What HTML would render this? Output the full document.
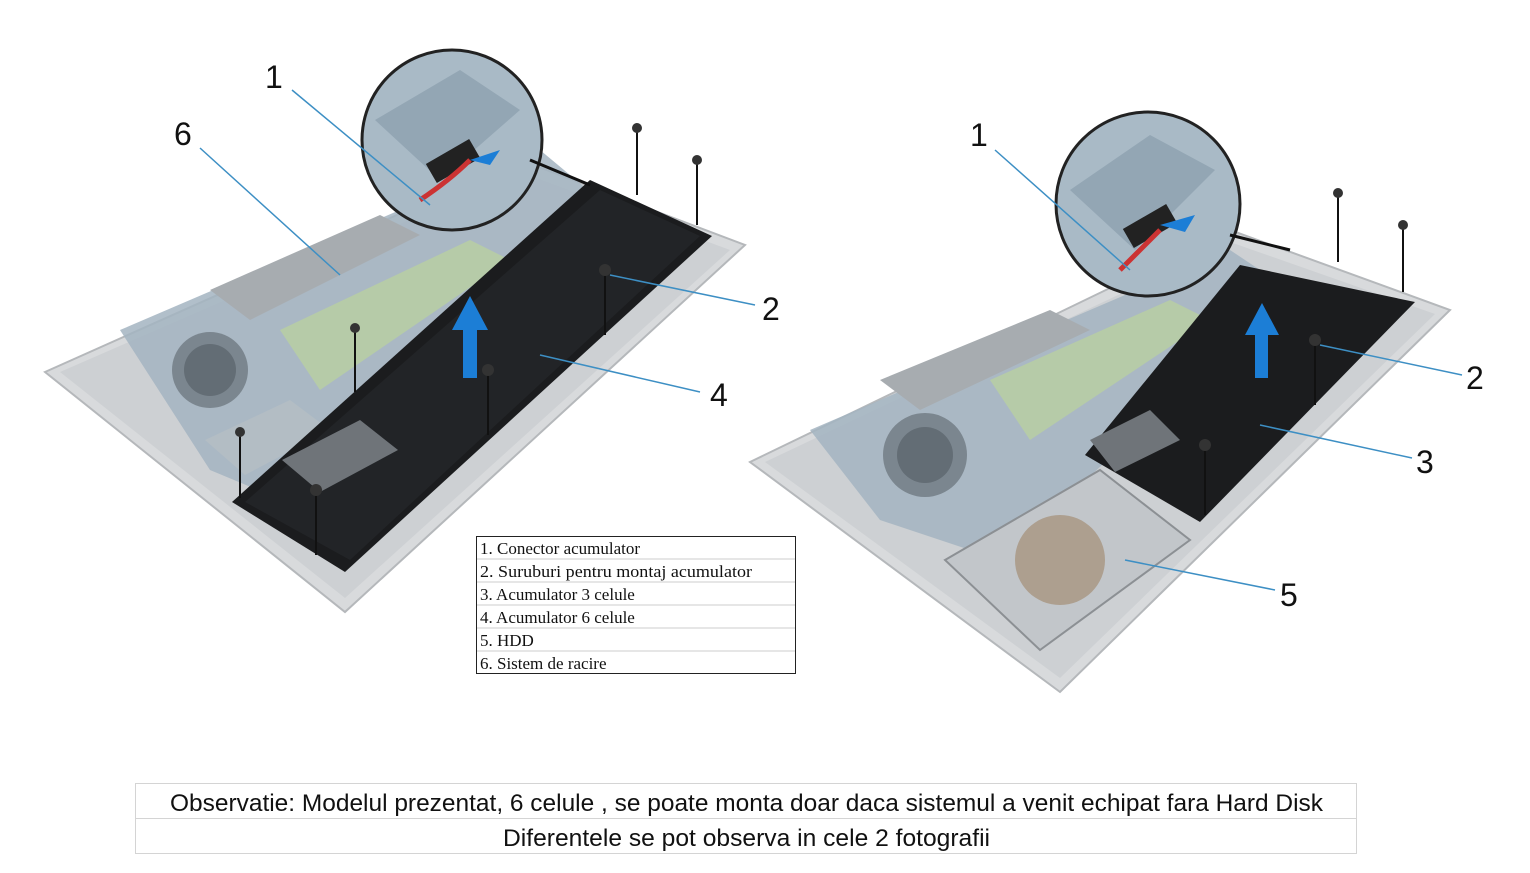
<!DOCTYPE html>
<html><head><meta charset="utf-8"><style>
html,body{margin:0;padding:0;background:#fff;}
svg{display:block}
</style></head><body>
<svg width="1530" height="873" viewBox="0 0 1530 873" xmlns="http://www.w3.org/2000/svg">
<rect width="1530" height="873" fill="#fff"/>
<!-- LEFT LAPTOP -->
<polygon points="45,372 520,160 745,245 345,612" fill="#d8dadc" stroke="#b5b8bb" stroke-width="2"/>
<polygon points="60,372 520,172 730,250 345,598" fill="#cdd0d3"/>
<polygon points="120,330 540,150 600,200 330,520 210,470" fill="#a3b4c1" opacity="0.85"/>
<polygon points="280,330 470,240 510,260 320,390" fill="#b6cba8"/>
<polygon points="210,290 380,215 420,235 250,320" fill="#a7acb0"/>
<circle cx="210" cy="370" r="38" fill="#7b868f"/>
<circle cx="210" cy="370" r="26" fill="#636d75"/>
<polygon points="205,440 290,400 330,430 245,475" fill="#b3bdc4"/>
<polygon points="590,180 712,236 345,572 232,502" fill="#1b1c1e"/>
<polygon points="600,190 700,236 350,560 245,502" fill="#222427"/>
<polygon points="282,460 360,420 398,450 320,492" fill="#6f7479"/>
<polygon points="452,330 470,296 488,330 477,330 477,378 463,378 463,330" fill="#1c7ed6"/>
<!-- left magnifier -->
<circle cx="452" cy="140" r="90" fill="#a9bac6" stroke="#222" stroke-width="3"/>
<polygon points="375,120 460,70 520,110 440,180" fill="#93a6b4"/>
<rect x="428" y="150" width="50" height="22" fill="#222" transform="rotate(-30 453 161)"/>
<path d="M420,200 Q450,180 470,160" stroke="#c33" stroke-width="5" fill="none"/>
<polygon points="470,160 500,150 490,165" fill="#1c7ed6"/>
<line x1="530" y1="160" x2="590" y2="185" stroke="#111" stroke-width="3"/>
<!-- RIGHT LAPTOP -->
<polygon points="750,462 1230,230 1450,310 1060,692" fill="#d8dadc" stroke="#b5b8bb" stroke-width="2"/>
<polygon points="765,462 1230,242 1435,314 1060,678" fill="#cdd0d3"/>
<polygon points="810,430 1230,250 1290,290 1000,560 880,520" fill="#a3b4c1" opacity="0.85"/>
<polygon points="990,380 1170,300 1210,320 1030,440" fill="#b6cba8"/>
<polygon points="880,380 1050,310 1090,330 920,410" fill="#a7acb0"/>
<circle cx="925" cy="455" r="42" fill="#7b868f"/>
<circle cx="925" cy="455" r="28" fill="#636d75"/>
<polygon points="1240,265 1415,302 1200,522 1085,455" fill="#1b1c1e"/>
<polygon points="1090,440 1150,410 1180,440 1115,472" fill="#6f7479"/>
<polygon points="945,560 1100,470 1190,540 1040,650" fill="#c2c6ca" stroke="#8c9094" stroke-width="2"/>
<circle cx="1060" cy="560" r="45" fill="#a8957f" opacity="0.8"/>
<polygon points="1245,335 1262,303 1279,335 1268,335 1268,378 1255,378 1255,335" fill="#1c7ed6"/>
<!-- right magnifier -->
<circle cx="1148" cy="204" r="92" fill="#a9bac6" stroke="#222" stroke-width="3"/>
<polygon points="1070,190 1150,135 1215,170 1135,250" fill="#93a6b4"/>
<rect x="1125" y="215" width="50" height="22" fill="#222" transform="rotate(-30 1150 226)"/>
<path d="M1120,270 Q1140,250 1160,230" stroke="#c33" stroke-width="5" fill="none"/>
<polygon points="1160,225 1195,215 1185,232" fill="#1c7ed6"/>
<line x1="1230" y1="235" x2="1290" y2="250" stroke="#111" stroke-width="3"/>
<!-- screws -->
<g stroke="#111" stroke-width="2">
<line x1="637" y1="128" x2="637" y2="195"/><line x1="697" y1="160" x2="697" y2="225"/>
<line x1="605" y1="270" x2="605" y2="335"/><line x1="355" y1="328" x2="355" y2="392"/>
<line x1="488" y1="370" x2="488" y2="435"/><line x1="240" y1="432" x2="240" y2="498"/>
<line x1="316" y1="490" x2="316" y2="555"/>
<line x1="1338" y1="193" x2="1338" y2="262"/><line x1="1403" y1="225" x2="1403" y2="292"/>
<line x1="1315" y1="340" x2="1315" y2="405"/><line x1="1205" y1="445" x2="1205" y2="515"/>
</g>
<g fill="#333"><circle cx="637" cy="128" r="5"/><circle cx="697" cy="160" r="5"/><circle cx="605" cy="270" r="6"/><circle cx="355" cy="328" r="5"/><circle cx="488" cy="370" r="6"/><circle cx="240" cy="432" r="5"/><circle cx="316" cy="490" r="6"/><circle cx="1338" cy="193" r="5"/><circle cx="1403" cy="225" r="5"/><circle cx="1315" cy="340" r="6"/><circle cx="1205" cy="445" r="6"/></g>
<!-- leader lines -->
<g stroke="#3d8fc4" stroke-width="1.5">
<line x1="292" y1="90" x2="430" y2="205"/><line x1="200" y1="148" x2="340" y2="275"/>
<line x1="610" y1="275" x2="755" y2="305"/><line x1="540" y1="355" x2="700" y2="392"/>
<line x1="995" y1="150" x2="1130" y2="270"/><line x1="1320" y1="345" x2="1462" y2="375"/>
<line x1="1260" y1="425" x2="1412" y2="458"/><line x1="1125" y1="560" x2="1275" y2="590"/>
</g>
<g font-family="Liberation Sans, sans-serif" font-size="32" fill="#111">
<text x="265" y="88">1</text><text x="174" y="145">6</text><text x="762" y="320">2</text><text x="710" y="406">4</text>
<text x="970" y="146">1</text><text x="1466" y="389">2</text><text x="1416" y="473">3</text><text x="1280" y="606">5</text>
</g>
<!-- legend table -->
<g font-family="Liberation Serif, serif" font-size="17" fill="#111">
<rect x="476.5" y="536.5" width="319" height="137" fill="#fff" stroke="#222"/>
<g stroke="#ccc"><line x1="477" y1="559" x2="795" y2="559"/><line x1="477" y1="582" x2="795" y2="582"/><line x1="477" y1="605" x2="795" y2="605"/><line x1="477" y1="628" x2="795" y2="628"/><line x1="477" y1="651" x2="795" y2="651"/></g>
<text x="480" y="554">1. Conector acumulator</text>
<text x="480" y="577" textLength="272" lengthAdjust="spacingAndGlyphs">2. Suruburi pentru montaj acumulator</text>
<text x="480" y="600">3. Acumulator 3 celule</text>
<text x="480" y="623">4. Acumulator 6 celule</text>
<text x="480" y="646">5. HDD</text>
<text x="480" y="669">6. Sistem de racire</text>
</g>
<!-- bottom table -->
<rect x="135.5" y="783.5" width="1221" height="70" fill="none" stroke="#d4d4d4"/>
<line x1="136" y1="818.5" x2="1356" y2="818.5" stroke="#d4d4d4"/>
<g font-family="Liberation Sans, sans-serif" font-size="24" fill="#111">
<text x="170" y="811" textLength="1153" lengthAdjust="spacingAndGlyphs">Observatie: Modelul prezentat, 6 celule , se poate monta doar daca sistemul a venit echipat fara Hard Disk</text>
<text x="503" y="846" textLength="487" lengthAdjust="spacingAndGlyphs">Diferentele se pot observa in cele 2 fotografii</text>
</g>
</svg>
</body></html>
